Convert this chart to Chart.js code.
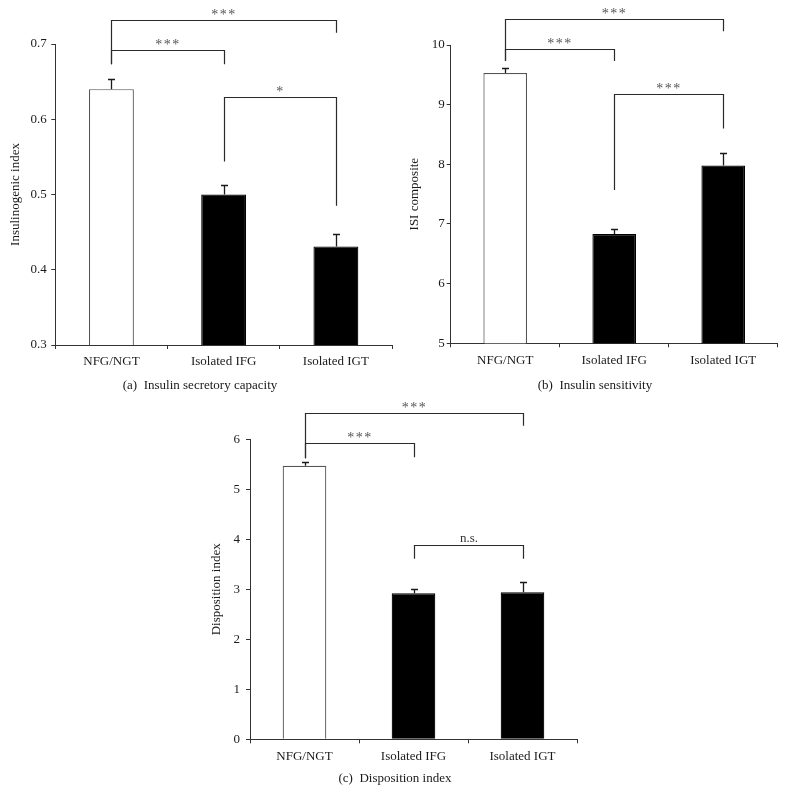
<!DOCTYPE html>
<html><head><meta charset="utf-8">
<script src="https://cdn.jsdelivr.net/npm/chart.js@4"></script>
<style>
body{margin:0;background:#fff;width:786px;height:793px;position:relative;overflow:hidden;}
.p{position:absolute;}
.cap{position:absolute;font:13px "Liberation Serif",serif;color:#1a1a1a;white-space:pre;transform:translate(-50%,-50%);}
</style></head><body>
<canvas id="ca" class="p" width="393" height="400" style="left:0;top:0"></canvas>
<canvas id="cb" class="p" width="393" height="400" style="left:393px;top:0"></canvas>
<canvas id="cc" class="p" width="400" height="393" style="left:190px;top:400px"></canvas>
<div class="cap" style="left:200px;top:385px">(a)  Insulin secretory capacity</div>
<div class="cap" style="left:595px;top:385px">(b)  Insulin sensitivity</div>
<div class="cap" style="left:395px;top:778px">(c)  Disposition index</div>
<script>
// ---- data ----
const categories = ['NFG/NGT', 'Isolated IFG', 'Isolated IGT'];

const insulinogenicIndex = [0.640, 0.500, 0.431];
const insulinogenicErr   = [0.013, 0.012, 0.017];
const insulinogenicTicks = [0.3, 0.4, 0.5, 0.6, 0.7];

const isiComposite = [9.53, 6.83, 7.98];
const isiErr       = [0.09, 0.09, 0.21];
const isiTicks     = [5, 6, 7, 8, 9, 10];

const dispositionIndex = [5.47, 2.92, 2.94];
const dispositionErr   = [0.08, 0.09, 0.21];
const dispositionTicks = [0, 1, 2, 3, 4, 5, 6];

// significance brackets (category indices, heights in data units)
const bracketsA = [
  {from:0, to:2, level:0.732, leftEnd:0.673, rightEnd:0.715, label:'***'},
  {from:0, to:1, level:0.692, leftEnd:0.673, rightEnd:0.673, label:'***'},
  {from:1, to:2, level:0.629, leftEnd:0.544, rightEnd:0.485, label:'*'}
];
const bracketsB = [
  {from:0, to:2, level:10.43, leftEnd:9.73, rightEnd:10.23, label:'***'},
  {from:0, to:1, level:9.94,  leftEnd:9.73, rightEnd:9.73,  label:'***'},
  {from:1, to:2, level:9.18,  leftEnd:7.57, rightEnd:8.60,  label:'***'}
];
const bracketsC = [
  {from:0, to:2, level:6.52, leftEnd:5.62, rightEnd:6.27, label:'***'},
  {from:0, to:1, level:5.93, leftEnd:5.62, rightEnd:5.64, label:'***'},
  {from:1, to:2, level:3.88, leftEnd:3.61, rightEnd:3.61, label:'n.s.'}
];

// ---- drawing ----
const FONT = '"Liberation Serif", "Times New Roman", serif';
const INK = '#1a1a1a';

const overlay = {
  id: 'overlay',
  afterDatasetsDraw(chart) {
    const o = chart.options.plugins.overlay;
    const ctx = chart.ctx, xs = chart.scales.x, ys = chart.scales.y;
    const vals = chart.data.datasets[0].data;
    ctx.save();
    ctx.strokeStyle = INK;
    ctx.lineWidth = 1.3;
    vals.forEach((v, i) => {
      const cx = Math.round(xs.getPixelForValue(i)) + 0.5;
      const y0 = ys.getPixelForValue(v);
      const y1 = Math.round(ys.getPixelForValue(v + o.errors[i])) + 0.5;
      ctx.beginPath();
      ctx.moveTo(cx, y0); ctx.lineTo(cx, y1);
      ctx.moveTo(cx - 3.5, y1); ctx.lineTo(cx + 3.5, y1);
      ctx.stroke();
    });
    ctx.lineWidth = 1.2;
    ctx.strokeStyle = '#2a2a2a';
    ctx.textAlign = 'center';
    ctx.textBaseline = 'alphabetic';
    o.brackets.forEach(b => {
      const xl = Math.round(xs.getPixelForValue(b.from)) + 0.5;
      const xr = Math.round(xs.getPixelForValue(b.to)) + 0.5;
      const yl = Math.round(ys.getPixelForValue(b.level)) + 0.5;
      ctx.beginPath();
      ctx.moveTo(xl, ys.getPixelForValue(b.leftEnd));
      ctx.lineTo(xl, yl);
      ctx.lineTo(xr, yl);
      ctx.lineTo(xr, ys.getPixelForValue(b.rightEnd));
      ctx.stroke();
      const stars = b.label.charAt(0) === '*';
      ctx.font = (stars ? '14px ' : '13px ') + FONT;
      ctx.fillStyle = stars ? '#555' : '#333';
      if ('letterSpacing' in ctx) ctx.letterSpacing = stars ? '1.5px' : '0px';
      ctx.fillText(b.label, (xl + xr) / 2, yl + (stars ? -1.5 : -4));
    });
    ctx.restore();
  }
};

function makeChart(id, values, errors, ticks, brackets, title, geo) {
  return new Chart(document.getElementById(id), {
    type: 'bar',
    data: {
      labels: categories,
      datasets: [{
        data: values,
        backgroundColor: ['#ffffff', '#000000', '#000000'],
        borderColor: ['#555555', '#000000', '#000000'],
        borderWidth: 1.2,
        borderSkipped: 'start',
        barPercentage: 0.4,
        categoryPercentage: 1.0
      }]
    },
    plugins: [overlay],
    options: {
      responsive: false,
      animation: false,
      events: [],
      layout: {padding: {left: 0, top: geo.top, right: geo.right, bottom: geo.bottom}},
      plugins: {
        legend: {display: false},
        tooltip: {enabled: false},
        overlay: {errors: errors, brackets: brackets}
      },
      scales: {
        x: {
          type: 'category',
          offset: true,
          afterFit(s) { s.height = 40; },
          grid: {offset: true, drawOnChartArea: false, tickLength: 4, color: '#333', lineWidth: 1},
          border: {display: true, color: '#333', width: 1},
          ticks: {font: {family: FONT, size: 13}, color: INK, padding: 5, maxRotation: 0}
        },
        y: {
          min: ticks[0],
          max: ticks[ticks.length - 1],
          afterFit(s) { s.width = geo.yw; },
          afterBuildTicks(s) { s.ticks = ticks.map(v => ({value: v})); },
          grid: {drawOnChartArea: false, tickLength: 4, color: '#333', lineWidth: 1},
          border: {display: true, color: '#333', width: 1},
          ticks: {font: {family: FONT, size: 13}, color: INK, padding: geo.tp,
                  callback: v => String(Math.round(v * 10) / 10)},
          title: {display: true, text: title, font: {family: FONT, size: 13}, color: INK,
                  padding: {top: geo.tt, bottom: 0}}
        }
      }
    }
  });
}

makeChart('ca', insulinogenicIndex, insulinogenicErr, insulinogenicTicks, bracketsA,
  'Insulinogenic index', {top: 44, right: 1, bottom: 15, yw: 55.3, tp: 4.5, tt: 7.5});
makeChart('cb', isiComposite, isiErr, isiTicks, bracketsB,
  'ISI composite', {top: 45, right: 8.3, bottom: 16.7, yw: 57.7, tp: 2, tt: 14.2});
makeChart('cc', dispositionIndex, dispositionErr, dispositionTicks, bracketsC,
  'Disposition index', {top: 39.3, right: 13, bottom: 13.7, yw: 60, tp: 6, tt: 18.9});
</script>
</body></html>
